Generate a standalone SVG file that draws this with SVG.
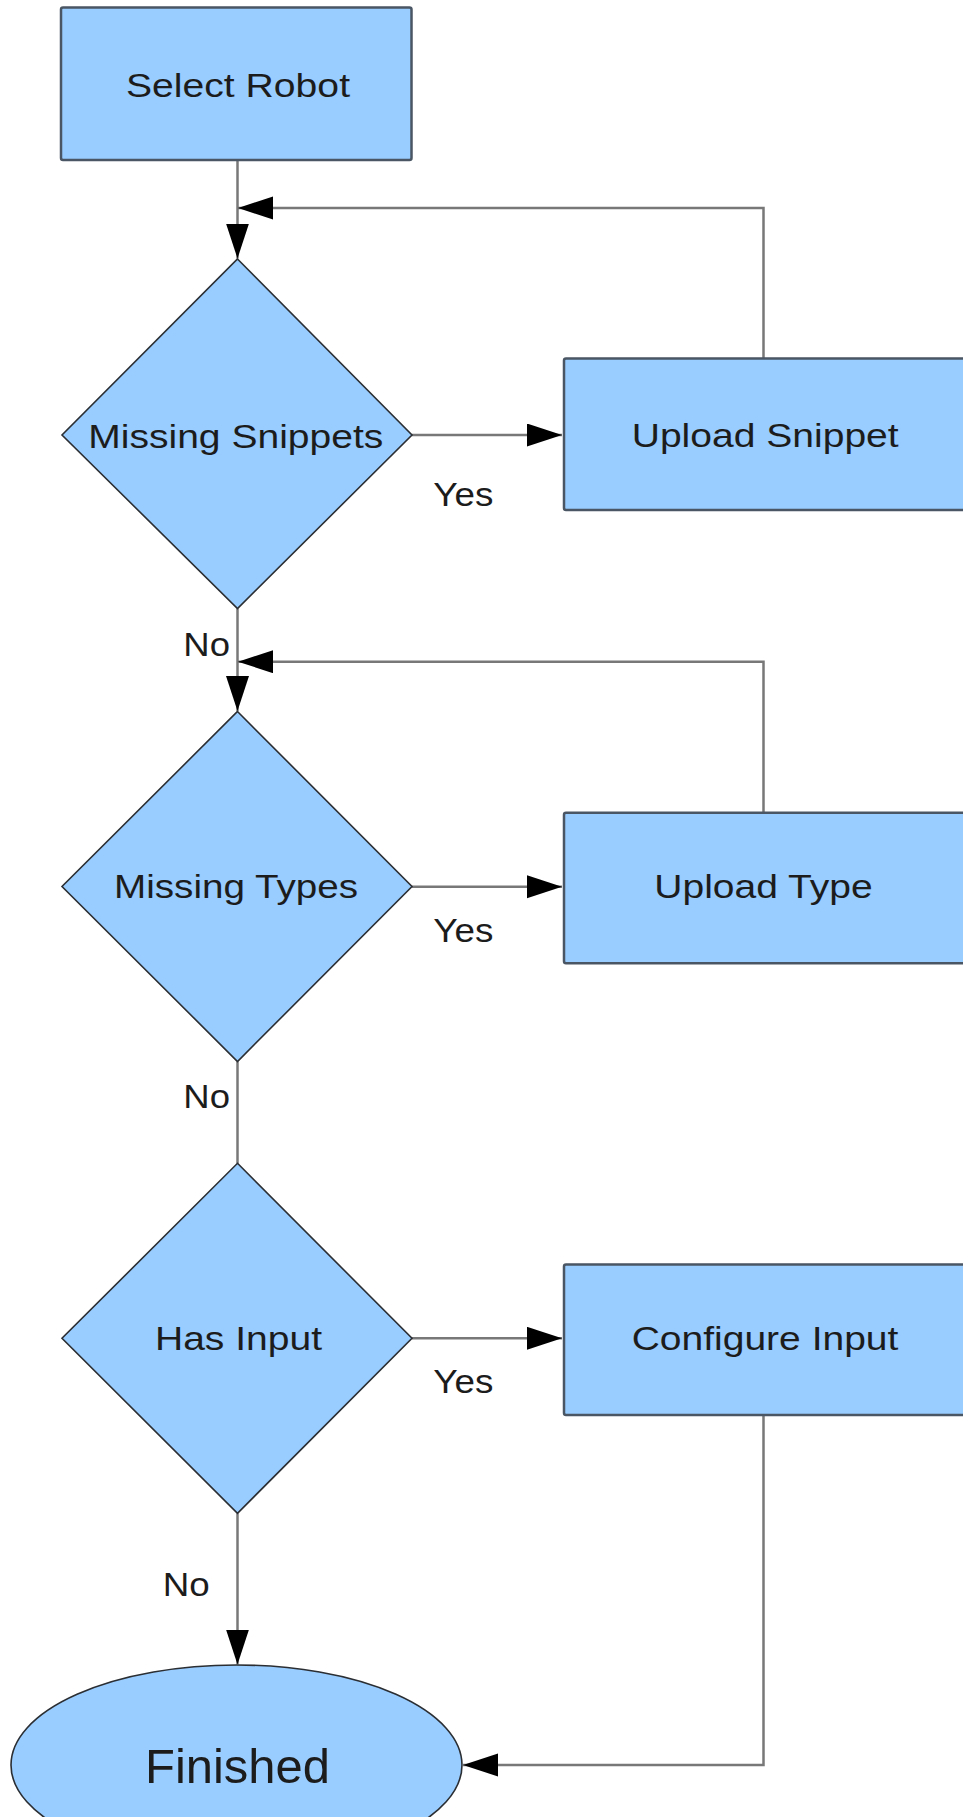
<svg xmlns="http://www.w3.org/2000/svg" width="963" height="1817" viewBox="0 0 963 1817">
<style>
.box{fill:#99ccff;stroke:#4a5663;stroke-width:2.5}
.dia{fill:#99ccff;stroke:#2b2f33;stroke-width:1.6}
.ell{fill:#99ccff;stroke:#2b2f33;stroke-width:1.6}
.lbl{font-family:"Liberation Sans",Arial,sans-serif;font-size:34px;fill:#1c1c1c}
.big{font-family:"Liberation Sans",Arial,sans-serif;font-size:49px;fill:#1c1c1c}
.con{fill:none;stroke:#787878;stroke-width:2.5}
.conA{fill:none;stroke:#787878;stroke-width:2.5;marker-end:url(#arr)}
</style>
<defs>
<marker id="arr" markerUnits="userSpaceOnUse" markerWidth="36" markerHeight="24" refX="35" refY="11.5" orient="auto">
<path d="M0,0 L35,11.5 L0,23 Z" fill="#000"/>
</marker>
</defs>
<rect width="963" height="1817" fill="#ffffff"/>
<g id="connectors">
<path class="conA" d="M237.5 160 V258.5"/>
<path class="conA" d="M763.5 358.5 V208 H238"/>
<path class="conA" d="M412 435 H562"/>
<path class="conA" d="M237.5 608.5 V711"/>
<path class="conA" d="M763.5 812.7 V661.7 H238"/>
<path class="conA" d="M412 886.7 H562"/>
<path class="con" d="M237.5 1061.5 V1163.3"/>
<path class="conA" d="M412 1338.3 H562"/>
<path class="conA" d="M237.5 1513.3 V1664.5"/>
<path class="conA" d="M763.5 1415 V1765 H463"/>
<text class="lbl" x="433.3" y="506" textLength="60" lengthAdjust="spacingAndGlyphs">Yes</text>
<text class="lbl" x="433.3" y="942" textLength="60" lengthAdjust="spacingAndGlyphs">Yes</text>
<text class="lbl" x="433.3" y="1393.3" textLength="60" lengthAdjust="spacingAndGlyphs">Yes</text>
<text class="lbl" x="183.3" y="656" textLength="46.7" lengthAdjust="spacingAndGlyphs">No</text>
<text class="lbl" x="183.3" y="1108" textLength="46.7" lengthAdjust="spacingAndGlyphs">No</text>
<text class="lbl" x="162.8" y="1596" textLength="47" lengthAdjust="spacingAndGlyphs">No</text>
</g>
<g id="select-robot">
<rect class="box" x="61" y="7.5" width="350.5" height="152.5" rx="2"/>
<text class="lbl" x="126" y="97.3" textLength="224" lengthAdjust="spacingAndGlyphs">Select Robot</text>
</g>
<g id="missing-snippets">
<polygon class="dia" points="237.5,259 412,435 237.5,608.5 62,435"/>
<text class="lbl" x="88.3" y="447.5" textLength="295" lengthAdjust="spacingAndGlyphs">Missing Snippets</text>
</g>
<g id="upload-snippet">
<rect class="box" x="564" y="358.5" width="402" height="151.5" rx="2"/>
<text class="lbl" x="631.7" y="446.7" textLength="267" lengthAdjust="spacingAndGlyphs">Upload Snippet</text>
</g>
<g id="missing-types">
<polygon class="dia" points="237.5,711.5 412,886.5 237.5,1061.5 62,886.5"/>
<text class="lbl" x="114" y="898.3" textLength="244" lengthAdjust="spacingAndGlyphs">Missing Types</text>
</g>
<g id="upload-type">
<rect class="box" x="564" y="812.7" width="402" height="150.6" rx="2"/>
<text class="lbl" x="654.3" y="898.3" textLength="218.4" lengthAdjust="spacingAndGlyphs">Upload Type</text>
</g>
<g id="has-input">
<polygon class="dia" points="237.5,1163.3 412,1338.3 237.5,1513.3 62,1338.3"/>
<text class="lbl" x="155" y="1350" textLength="167" lengthAdjust="spacingAndGlyphs">Has Input</text>
</g>
<g id="configure-input">
<rect class="box" x="564" y="1264.5" width="402" height="150.5" rx="2"/>
<text class="lbl" x="631.7" y="1350" textLength="266.7" lengthAdjust="spacingAndGlyphs">Configure Input</text>
</g>
<g id="finished">
<ellipse class="ell" cx="236.5" cy="1765" rx="225.5" ry="100"/>
<text class="big" x="145" y="1782.5" textLength="185" lengthAdjust="spacingAndGlyphs">Finished</text>
</g>
</svg>
